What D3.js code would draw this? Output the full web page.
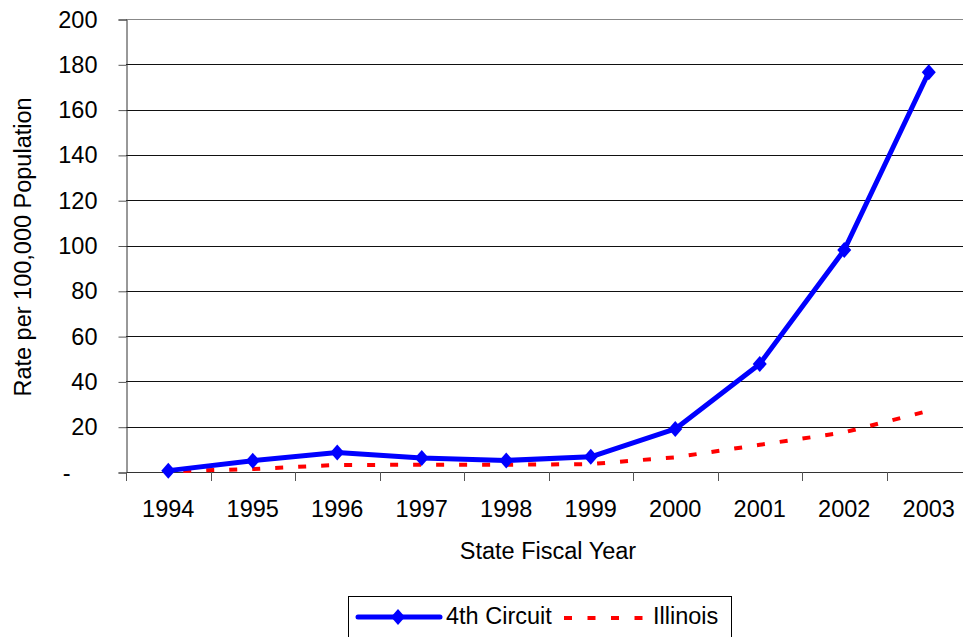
<!DOCTYPE html>
<html lang="en">
<head>
<meta charset="UTF-8">
<title>Rate per 100,000 Population</title>
<style>
  html, body { margin: 0; padding: 0; background: #fff; overflow: hidden; }
  svg { display: block; font-family: 'Liberation Sans', Arial, sans-serif; }
</style>
</head>
<body>
<svg width="963" height="637"></svg>
<script src="https://d3js.org/d3.v7.min.js"></script>
<script>
const years = ["1994","1995","1996","1997","1998","1999","2000","2001","2002","2003"];
const circuit = [0.6, 5.0, 8.6, 6.2, 5.1, 6.7, 19, 47.7, 98, 176.5];
const illinois = [0.3, 1.3, 3.1, 3.2, 3.2, 3.5, 6.5, 12, 17.5, 27];
const yTicks = [0, 20, 40, 60, 80, 100, 120, 140, 160, 180, 200];

const svg = d3.select("svg");
const plotLeft = 126, plotRight = 971, plotTop = 19, plotBottom = 472;
const fs = 23.5;

const x = d3.scaleBand().domain(years).range([plotLeft, plotRight]);
const y = d3.scaleLinear().domain([0, 200]).range([plotBottom, plotTop]);

// gridlines
svg.append("g").selectAll("line")
  .data(yTicks.filter(d => d > 0))
  .enter().append("line")
  .attr("x1", plotLeft).attr("x2", 963)
  .attr("y1", d => Math.round(y(d)) + 0.5).attr("y2", d => Math.round(y(d)) + 0.5)
  .attr("stroke", d => d === 200 ? "#888" : "#111")
  .attr("stroke-width", 1);

// y axis
const yAxis = d3.axisLeft(y).tickValues(yTicks).tickSize(8).tickPadding(21)
  .tickFormat(d => d === 0 ? "-" : d);
svg.append("g")
  .attr("transform", `translate(${plotLeft + 0.5},0.5)`)
  .call(yAxis)
  .call(g => g.select(".domain").attr("stroke", "#333"))
  .call(g => g.selectAll(".tick line").attr("stroke", "#555"))
  .call(g => g.selectAll("text").attr("font-size", fs).attr("fill", "#000")
    .attr("font-family", "'Liberation Sans', Arial, sans-serif"))
  .call(g => g.selectAll(".tick text").filter(d => d === 0).attr("dx", -27));

// x axis with ticks at band boundaries
svg.append("line")
  .attr("x1", plotLeft).attr("x2", 963)
  .attr("y1", plotBottom + 0.5).attr("y2", plotBottom + 0.5)
  .attr("stroke", "#333");
svg.append("g").selectAll("line")
  .data(years.concat(["end"]))
  .enter().append("line")
  .attr("x1", (d, i) => Math.round(plotLeft + i * x.bandwidth()) + 0.5)
  .attr("x2", (d, i) => Math.round(plotLeft + i * x.bandwidth()) + 0.5)
  .attr("y1", plotBottom).attr("y2", plotBottom + 9)
  .attr("stroke", "#555");
svg.append("g").selectAll("text")
  .data(years)
  .enter().append("text")
  .attr("x", d => x(d) + x.bandwidth() / 2)
  .attr("y", 517)
  .attr("text-anchor", "middle")
  .attr("font-size", fs)
  .text(d => d);

// axis titles
svg.append("text")
  .attr("x", 548).attr("y", 559)
  .attr("text-anchor", "middle")
  .attr("font-size", fs)
  .text("State Fiscal Year");
svg.append("text")
  .attr("transform", "translate(31,247) rotate(-90)")
  .attr("text-anchor", "middle")
  .attr("font-size", fs)
  .text("Rate per 100,000 Population");

const cx = d => x(d) + x.bandwidth() / 2;

// Illinois dashed
svg.append("path")
  .datum(illinois)
  .attr("fill", "none")
  .attr("stroke", "#ff0000")
  .attr("stroke-width", 4)
  .attr("stroke-dasharray", "8,15")
  .attr("stroke-dashoffset", -15)
  .attr("d", d3.line().x((d, i) => cx(years[i])).y(d => y(d)));

// 4th Circuit
svg.append("path")
  .datum(circuit)
  .attr("fill", "none")
  .attr("stroke", "#0000ff")
  .attr("stroke-width", 5)
  .attr("stroke-linejoin", "round")
  .attr("d", d3.line().x((d, i) => cx(years[i])).y(d => y(d)));

const diamond = "M0,-8L7,0L0,8L-7,0Z";
svg.append("g").selectAll("path")
  .data(circuit)
  .enter().append("path")
  .attr("transform", (d, i) => `translate(${cx(years[i])},${y(d)})`)
  .attr("d", diamond)
  .attr("fill", "#0000ff");

// legend
const lg = svg.append("g");
lg.append("rect")
  .attr("x", 348.5).attr("y", 596.5)
  .attr("width", 383).attr("height", 50)
  .attr("fill", "#fff").attr("stroke", "#000");
lg.append("line")
  .attr("x1", 358).attr("x2", 440).attr("y1", 617).attr("y2", 617)
  .attr("stroke", "#0000ff").attr("stroke-width", 5).attr("stroke-linecap", "round");
lg.append("path")
  .attr("transform", "translate(398,617)")
  .attr("d", diamond).attr("fill", "#0000ff");
lg.append("text")
  .attr("x", 446).attr("y", 624)
  .attr("font-size", fs)
  .text("4th Circuit");
lg.append("line")
  .attr("x1", 564).attr("x2", 645).attr("y1", 618).attr("y2", 618)
  .attr("stroke", "#ff0000").attr("stroke-width", 4).attr("stroke-dasharray", "8,15.5");
lg.append("text")
  .attr("x", 653).attr("y", 624)
  .attr("font-size", fs)
  .text("Illinois");
</script>
</body>
</html>
